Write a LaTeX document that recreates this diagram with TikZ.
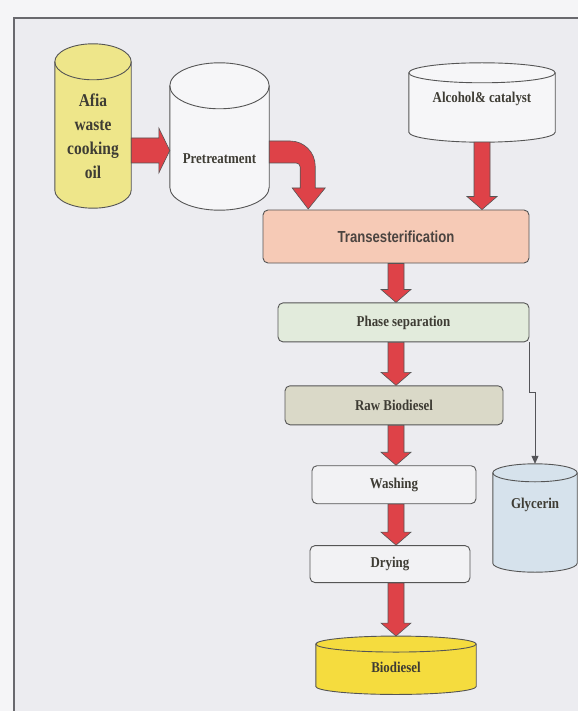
\documentclass[tikz,border=0pt]{standalone}
\usepackage{fontspec}
\usepackage{tikz}
\usetikzlibrary{positioning,calc,backgrounds,arrows.meta}
\newfontfamily\condserif[FakeStretch=0.86]{Liberation Serif}
\newfontfamily\condsans[FakeStretch=0.82]{Liberation Sans}
\definecolor{paper}{RGB}{245,245,247}
\definecolor{panel}{RGB}{236,236,240}
\definecolor{frameline}{RGB}{105,105,110}
\definecolor{boxline}{RGB}{85,85,85}
\definecolor{labelgray}{RGB}{62,60,52}
\definecolor{transtext}{RGB}{75,68,64}
\definecolor{flowred}{RGB}{222,66,72}
\definecolor{transfill}{RGB}{246,202,182}
\definecolor{phasefill}{RGB}{226,235,220}
\definecolor{rawfill}{RGB}{218,217,200}
\definecolor{stepfill}{RGB}{242,242,244}
\definecolor{oilyellow}{RGB}{238,230,138}
\definecolor{dieselyellow}{RGB}{245,220,62}
\definecolor{glycblue}{RGB}{214,226,236}
\definecolor{tankwhite}{RGB}{246,246,248}

\newcommand{\cylbody}[3]{%
  \filldraw[tankline, fill=#3] let \p1=(#1.north west), \p2=(#1.south east), \n1={(\x2-\x1)/2} in
    (\x1,\y1-#2pt) -- (\x1,\y2+#2pt) arc[start angle=180, end angle=360, x radius=\n1, y radius=#2pt]
    -- (\x2,\y1-#2pt) arc[start angle=0, end angle=180, x radius=\n1, y radius=#2pt] -- cycle;
  \draw[tankline] let \p1=(#1.north west), \p2=(#1.south east), \n1={(\x2-\x1)/2} in
    (\x1,\y1-#2pt) arc[start angle=180, end angle=360, x radius=\n1, y radius=#2pt];}

\newcommand{\vflow}[3]{%
  \filldraw[flowarrow] let \p1=(#1 |- #2.south), \p2=(#1 |- #3.north) in
    (\x1-8pt,\y1) -- (\x1+8pt,\y1) -- (\x1+8pt,\y2+13pt) -- (\x1+15pt,\y2+13pt) -- (\x1,\y2)
    -- (\x1-15pt,\y2+13pt) -- (\x1-8pt,\y2+13pt) -- cycle;}

\begin{document}
\begin{tikzpicture}[
x=1pt, y=1pt,
node distance=40pt,
flowbox/.style={draw=boxline, line width=0.9pt, rounded corners=5pt, inner sep=0pt, text=labelgray, font=\condserif\bfseries\fontsize{15}{18}\selectfont},
tank/.style={inner sep=0pt},
tanklabel/.style={text=labelgray, align=center, font=\condserif\bfseries\fontsize{15}{18}\selectfont},
tankline/.style={draw=boxline, line width=0.9pt},
flowarrow/.style={fill=flowred, draw=boxline, line width=0.6pt},
sidearrow/.style={draw=frameline!80!black, line width=0.8pt, -{Triangle[length=8pt,width=7pt]}}
]
\useasboundingbox (0,0) rectangle (578,-711);
\node[tank, minimum width=76pt, minimum height=164pt, label={[tanklabel, font=\condserif\bfseries\fontsize{18}{24}\selectfont, yshift=-10pt]center:{Afia\\waste\\cooking\\oil}}] (afia) at (93,-126) {};
\node[tank, minimum width=99pt, minimum height=147pt, label={[tanklabel, yshift=-22pt]center:Pretreatment}] (pre) at (219.5,-136.5) {};
\node[tank, minimum width=146pt, minimum height=79pt, label={[tanklabel, yshift=4pt]center:Alcohol\& catalyst}] (alc) at (482,-102.5) {};
\node[flowbox, fill=transfill, minimum width=266pt, minimum height=53pt, text=transtext, font=\condsans\bfseries\fontsize{16}{19}\selectfont] (trans) at (396,-236.5) {Transesterification};
\node[flowbox, fill=phasefill, minimum width=251pt, minimum height=39pt, below=39pt of trans, xshift=7.5pt] (phase) {Phase separation};
\node[flowbox, fill=rawfill, minimum width=218pt, minimum height=39pt, below=43pt of phase, xshift=-9.5pt] (raw) {Raw Biodiesel};
\node[flowbox, fill=stepfill, minimum width=164pt, minimum height=38pt, below=40pt of raw] (wash) {Washing};
\node[flowbox, fill=stepfill, minimum width=160pt, minimum height=37pt, below=41pt of wash, xshift=-4pt] (dry) {Drying};
\node[tank, minimum width=160pt, minimum height=58pt, below=53pt of dry, xshift=6pt, label={[tanklabel, yshift=-2pt]center:Biodiesel}] (bio) {};
\node[tank, minimum width=84pt, minimum height=108pt, label={[tanklabel, yshift=13pt]center:Glycerin}] (gly) at (535,-518) {};
\coordinate (axis) at (396,0);

\begin{scope}[on background layer]
\fill[paper] (0,0) rectangle (578,-711);
\fill[panel] (14,-18) rectangle (578,-711);
\draw[frameline, line width=1.5pt] (14,-711) -- (14,-18) -- (578,-18);
\cylbody{afia}{18}{oilyellow}
\cylbody{pre}{23}{tankwhite}
\cylbody{alc}{10}{tankwhite}
\cylbody{bio}{8}{dieselyellow}
\cylbody{gly}{9}{glycblue}
\end{scope}

\filldraw[flowarrow] let \p1=([yshift=-24.5pt]afia.east), \p2=(pre.west) in (\x1,\y1+12.5pt) -- (\x2-11pt,\y1+12.5pt) -- (\x2-11pt,\y1+22.5pt) -- (\x2,\y1) -- (\x2-11pt,\y1-22.5pt) -- (\x2-11pt,\y1-12.5pt) -- (\x1,\y1-12.5pt) -- cycle;
\filldraw[flowarrow] ([yshift=-4.5pt]pre.east) -- ++(21,0) arc[start angle=90, end angle=0, radius=25] -- ++(0,-22) -- ++(10,0) -- ++(-17,-21) -- ++(-16,21) -- ++(8,0) -- ++(0,21) arc[start angle=0, end angle=90, radius=4] -- ++(-27,0) -- cycle;
\vflow{alc}{alc}{trans}
\vflow{axis}{trans}{phase}
\vflow{axis}{phase}{raw}
\vflow{axis}{raw}{wash}
\vflow{axis}{wash}{dry}
\vflow{axis}{dry}{bio}
\draw[sidearrow] (phase.south east) -- ++(0,-50) -| (gly.north);
\end{tikzpicture}
\end{document}
